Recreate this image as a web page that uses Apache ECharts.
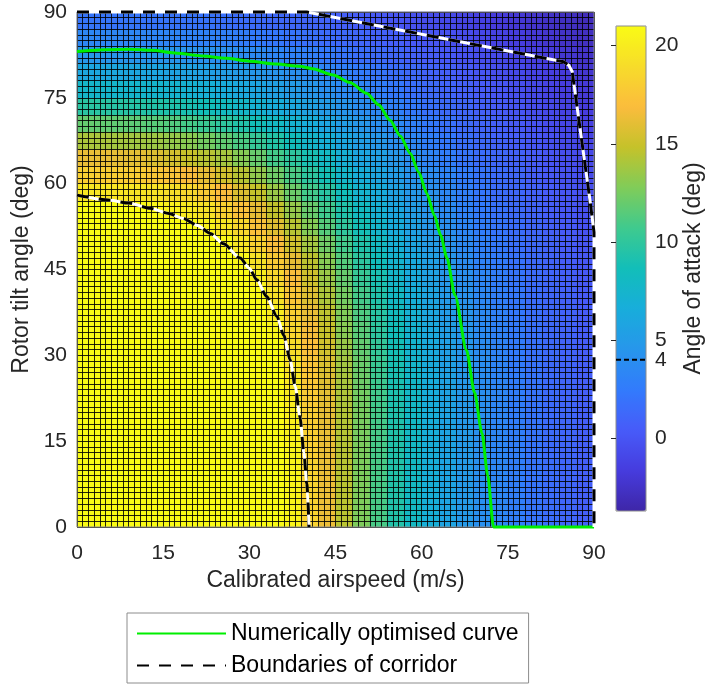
<!DOCTYPE html>
<html>
<head>
<meta charset="utf-8">
<script src="https://cdn.jsdelivr.net/npm/echarts@6/dist/echarts.min.js"></script>
<style>
html,body{margin:0;padding:0;background:#ffffff;}
#chart{width:711px;height:684px;}
</style>
</head>
<body>
<div id="chart"></div>
<script>
// ---------- data ----------
// heatmap cell centres (3 m/s x 3 deg blocks)
const speedCells = [1.5,4.5,7.5,10.5,13.5,16.5,19.5,22.5,25.5,28.5,31.5,34.5,37.5,40.5,43.5,46.5,49.5,52.5,55.5,58.5,61.5,64.5,67.5,70.5,73.5,76.5,79.5,82.5,85.5,88.5];
const tiltCells  = [1.5,4.5,7.5,10.5,13.5,16.5,19.5,22.5,25.5,28.5,31.5,34.5,37.5,40.5,43.5,46.5,49.5,52.5,55.5,58.5,61.5,64.5,67.5,70.5,73.5,76.5,79.5,82.5,85.5,88.5];
// angle of attack (deg); row i belongs to tiltCells[i], column j to speedCells[j]
const aoaRows = [
 [21,21,21,21,21,21,21,21,21,21,21,21,20.6,18.3,16.3,14.5,12.7,11.0,9.4,8.1,6.8,5.75,4.85,4.1,3.4,2.7,2.1,1.55,1.1,0.7],
 [21,21,21,21,21,21,21,21,21,21,21,21,20.6,18.3,16.3,14.5,12.7,11.0,9.4,8.1,6.8,5.75,4.85,4.1,3.4,2.7,2.1,1.55,1.1,0.7],
 [21,21,21,21,21,21,21,21,21,21,21,21,20.6,18.3,16.3,14.5,12.7,11.0,9.4,8.1,6.8,5.75,4.85,4.1,3.4,2.7,2.1,1.55,1.1,0.7],
 [21,21,21,21,21,21,21,21,21,21,21,21,20.55,18.25,16.25,14.45,12.65,11.0,9.4,8.1,6.8,5.75,4.85,4.1,3.4,2.7,2.1,1.55,1.1,0.7],
 [21,21,21,21,21,21,21,21,21,21,21,21,20.45,18.1,16.2,14.4,12.6,10.95,9.35,8.05,6.75,5.7,4.8,4.05,3.35,2.7,2.1,1.5,1.1,0.7],
 [21,21,21,21,21,21,21,21,21,21,21,21,20.35,18.05,16.15,14.35,12.55,10.95,9.35,8.05,6.7,5.7,4.8,4.05,3.35,2.7,2.1,1.5,1.1,0.7],
 [21,21,21,21,21,21,21,21,21,21,21,21,20.2,17.95,16.1,14.3,12.5,10.9,9.3,8.0,6.7,5.65,4.75,4.0,3.3,2.65,2.05,1.5,1.1,0.7],
 [21,21,21,21,21,21,21,21,21,21,21,21,20.0,17.8,15.95,14.15,12.4,10.8,9.2,7.9,6.6,5.65,4.75,4.0,3.3,2.65,2.0,1.45,1.05,0.65],
 [21,21,21,21,21,21,21,21,21,21,21,21,19.7,17.6,15.75,14.0,12.2,10.6,9.05,7.8,6.55,5.55,4.65,3.95,3.2,2.6,2.0,1.45,1.05,0.65],
 [21,21,21,21,21,21,21,21,21,21,21,21,19.4,17.4,15.6,13.8,12.05,10.45,8.95,7.6,6.45,5.45,4.6,3.9,3.15,2.5,1.9,1.4,1.0,0.6],
 [21,21,21,21,21,21,21,21,21,21,21,21,18.9,17.1,15.3,13.5,11.85,10.2,8.8,7.45,6.35,5.35,4.55,3.75,3.05,2.45,1.85,1.35,0.95,0.55],
 [21,21,21,21,21,21,21,21,21,21,21,20.6,18.55,16.65,14.9,13.05,11.55,9.95,8.6,7.3,6.2,5.25,4.45,3.7,3.0,2.4,1.8,1.3,0.9,0.5],
 [21,21,21,21,21,21,21,21,21,21,21,20.0,18.05,16.25,14.55,12.8,11.2,9.65,8.3,7.05,5.95,5.05,4.3,3.6,2.9,2.3,1.7,1.25,0.9,0.45],
 [21,21,21,21,21,21,21,21,21,21,21,19.25,17.5,15.75,14.1,12.4,10.9,9.35,8.05,6.8,5.8,4.9,4.15,3.45,2.75,2.2,1.6,1.2,0.8,0.35],
 [21,21,21,21,21,21,21,21,21,21,20.2,18.55,16.8,15.2,13.55,11.95,10.35,9.0,7.7,6.5,5.55,4.7,4.0,3.3,2.65,2.05,1.5,1.1,0.7,0.25],
 [21,21,21,21,21,21,21,21,21,20.7,19.25,17.7,16.1,14.55,12.95,11.4,9.9,8.55,7.3,6.25,5.35,4.55,3.8,3.05,2.5,1.9,1.4,1.0,0.55,0.15],
 [21,21,21,21,21,21,21,21,20.8,19.55,18.25,16.8,15.3,13.8,12.25,10.8,9.35,8.1,6.9,5.85,5.0,4.25,3.55,2.9,2.3,1.7,1.3,0.9,0.45,0.0],
 [21,21,21,21,21,21,21,20.5,19.6,18.65,17.25,15.8,14.4,12.9,11.45,10.05,8.8,7.5,6.45,5.55,4.7,4.0,3.35,2.7,2.1,1.55,1.15,0.75,0.35,-0.15],
 [21,21,21,21,20.7,20.35,19.9,19.25,18.3,17.25,16.05,14.75,13.4,12.0,10.7,9.35,8.15,7.0,6.0,5.15,4.4,3.7,3.0,2.45,1.9,1.4,1.0,0.6,0.15,-0.3],
 [19.7,19.6,19.5,19.45,19.3,19.0,18.55,17.7,16.9,15.7,14.8,13.5,12.1,10.8,9.7,8.55,7.4,6.4,5.55,4.75,4.05,3.4,2.75,2.2,1.6,1.2,0.85,0.45,0.0,-0.45],
 [18.1,18.0,17.95,17.9,17.6,17.35,16.8,16.1,15.3,14.4,13.3,12.2,11.1,9.9,8.8,7.7,6.7,5.8,5.05,4.4,3.8,3.15,2.55,2.05,1.5,1.1,0.6,0.25,-0.2,-0.65],
 [16.25,16.2,16.1,16.0,15.7,15.35,14.9,14.4,13.9,12.95,12.0,10.85,9.95,8.95,8.0,7.0,6.0,5.3,4.6,3.9,3.2,2.7,2.1,1.6,1.2,0.85,0.45,0.0,-0.45,-0.85],
 [14.05,13.95,13.85,13.75,13.65,13.4,13.05,12.4,11.8,11.1,10.3,9.45,8.55,7.65,6.8,6.0,5.25,4.6,4.0,3.4,2.8,2.3,1.7,1.3,0.95,0.55,0.15,-0.25,-0.7,-1.1],
 [11.9,11.85,11.8,11.65,11.5,11.3,10.9,10.45,9.95,9.4,8.7,8.0,7.3,6.6,5.85,5.2,4.6,4.0,3.45,2.9,2.35,1.8,1.35,1.05,0.7,0.3,-0.1,-0.55,-0.95,-1.35],
 [9.75,9.7,9.65,9.5,9.4,9.25,9.0,8.65,8.25,7.75,7.15,6.6,6.1,5.5,5.0,4.45,3.9,3.4,2.85,2.35,1.85,1.4,1.1,0.75,0.4,0.0,-0.45,-0.8,-1.25,-1.65],
 [7.7,7.6,7.55,7.5,7.45,7.35,7.15,6.9,6.55,6.2,5.85,5.4,5.0,4.55,4.1,3.6,3.15,2.7,2.25,1.75,1.35,1.05,0.75,0.4,0.0,-0.4,-0.8,-1.15,-1.55,-1.9],
 [6.0,6.0,5.95,5.9,5.85,5.65,5.5,5.35,5.15,5.0,4.65,4.35,4.0,3.65,3.2,2.85,2.45,2.0,1.6,1.3,0.95,0.65,0.35,0.0,-0.4,-0.75,-1.15,-1.5,-1.85,-2.2],
 [4.6,4.55,4.55,4.5,4.5,4.45,4.3,4.2,4.0,3.8,3.6,3.35,3.0,2.75,2.4,2.05,1.65,1.35,1.1,0.8,0.5,0.2,-0.15,-0.45,-0.8,-1.15,-1.5,-1.85,-2.15,-2.45],
 [3.4,3.35,3.3,3.3,3.25,3.2,3.1,3.0,2.9,2.7,2.5,2.3,2.05,1.75,1.5,1.3,1.1,0.85,0.6,0.3,0.0,-0.3,-0.6,-0.9,-1.25,-1.55,-1.9,-2.2,-2.5,-2.75],
 [2.1,2.1,2.1,2.1,2.05,2.0,2.0,1.95,1.75,1.6,1.45,1.3,1.2,1.05,0.9,0.7,0.5,0.25,0.0,-0.25,-0.5,-0.8,-1.1,-1.4,-1.7,-2.0,-2.25,-2.55,-2.8,-3.0]
];
// curves: [airspeed (m/s), rotor tilt (deg)]
const optimisedCurve = [[0,83.1],[5,83.4],[9,83.5],[13,83.3],[17.4,82.8],[22,82.3],[26,81.9],[30,81.4],[34.8,80.9],[38.8,80.5],[41,80.1],[44.6,79.0],[47.5,77.7],[50.4,75.8],[52.5,73.8],[54.5,71.1],[56.3,68.3],[58,65.3],[59.5,62.0],[60.9,58.3],[62.2,54.5],[63.3,51.0],[64.4,47.0],[65.8,40.5],[67.8,30.9],[69.2,23.5],[70.5,16.4],[71.5,9.0],[72.5,0],[90,0]];
const lowerBoundary = [[0,58.0],[5.7,57.1],[9,56.6],[12.7,55.7],[16,54.8],[18.5,53.9],[21,52.7],[23.2,51.3],[25.5,49.5],[28.4,47.0],[30,45.2],[31.3,43.2],[33,40.3],[34.8,36.8],[36,33.5],[37.1,29.2],[38,24.5],[38.8,19.3],[39.5,13.0],[40,7.6],[40.4,0]];
const upperBoundary = [[0,90],[40,90],[84.7,81.3],[85.6,80.7],[86.2,79.6],[89.3,57.1],[90,51.5],[90,0]];
const axisRange = [0, 90];
const axisStep = 15;
const aoaRange = [-3.7, 21];
const colorbarTicks = [0,5,10,15,20];
const colorbarLabels = [0,4,5,10,15,20];
const aoaThreshold = 4;
const seriesNames = ['Numerically optimised curve','Boundaries of corridor'];

// ---------- chart ----------
const FONT = "'Liberation Sans', Arial, Helvetica, sans-serif";
const TXT = '#262626';
const plotBox = {left:77, top:12, width:517, height:515};
const barBox = {left:616, top:26, width:30, height:485};
const parula = ['#3E26A8','#463CDE','#475BF9','#327BFC','#2796EB','#18ADDB','#12BEB9','#3FCA8E','#80CC59','#C5C22A','#FBBC3D','#F7DC2A','#F9FB15'];

const heatData = [];
aoaRows.forEach((row, i) => row.forEach((v, j) => heatData.push([j, i, v])));

const gridLine = {show:true, lineStyle:{color:'rgba(0,0,0,0.85)', width:1}};

const chart = echarts.init(document.getElementById('chart'), null, {renderer:'canvas'});
chart.setOption({
  animation:false,
  backgroundColor:'#ffffff',
  textStyle:{fontFamily:FONT},
  grid:[
    Object.assign({show:false, outerBoundsMode:'none', containLabel:false}, plotBox),
    Object.assign({show:true, borderColor:'#8c8c8c', borderWidth:1, backgroundColor:'transparent', z:6, outerBoundsMode:'none', containLabel:false}, plotBox),
    Object.assign({show:true, borderColor:'#8c8c8c', borderWidth:1, backgroundColor:'transparent', z:10, outerBoundsMode:'none', containLabel:false}, barBox)
  ],
  xAxis:[
    {gridIndex:0, type:'category', data:speedCells, show:false},
    {gridIndex:1, type:'value', min:axisRange[0], max:axisRange[1], interval:axisStep, z:5,
     axisLine:{show:false}, axisTick:{show:false},
     axisLabel:{fontSize:21, color:TXT, margin:16, fontFamily:FONT},
     splitLine:gridLine, minorTick:{show:false, splitNumber:15}, minorSplitLine:gridLine,
     name:'Calibrated airspeed (m/s)', nameLocation:'middle', nameGap:41,
     nameTextStyle:{fontSize:23, color:TXT, fontFamily:FONT}},
    {gridIndex:2, type:'value', min:0, max:1, show:false}
  ],
  yAxis:[
    {gridIndex:0, type:'category', data:tiltCells, show:false},
    {gridIndex:1, type:'value', min:axisRange[0], max:axisRange[1], interval:axisStep, z:5,
     axisLine:{show:false}, axisTick:{show:false},
     axisLabel:{fontSize:21, color:TXT, margin:10, fontFamily:FONT},
     splitLine:gridLine, minorTick:{show:false, splitNumber:15}, minorSplitLine:gridLine,
     name:'Rotor tilt angle (deg)', nameLocation:'middle', nameRotate:90, nameGap:40,
     nameTextStyle:{fontSize:23, color:TXT, fontFamily:FONT}},
    {gridIndex:2, type:'value', min:aoaRange[0], max:aoaRange[1], position:'right', z:11,
     axisLine:{show:false}, splitLine:{show:false},
     axisTick:{show:true, inside:true, length:5, customValues:colorbarTicks, lineStyle:{color:TXT, width:1}},
     axisLabel:{show:true, customValues:colorbarLabels, fontSize:21, color:TXT, margin:9, fontFamily:FONT},
     name:'Angle of attack (deg)', nameLocation:'middle', nameRotate:90, nameGap:36,
     nameTextStyle:{fontSize:23, color:TXT, fontFamily:FONT}}
  ],
  visualMap:{
    type:'continuous', min:aoaRange[0], max:aoaRange[1], seriesIndex:0, dimension:2,
    calculable:false, realtime:false, hoverLink:false, orient:'vertical',
    left:barBox.left, top:barBox.top, itemWidth:barBox.width, itemHeight:barBox.height,
    padding:0, showLabel:false, inRange:{color:parula}
  },
  legend:{
    data:seriesNames, orient:'vertical', left:127, top:613, selectedMode:false,
    itemWidth:89, itemHeight:14, itemGap:9, padding:[9,10,6,9],
    borderColor:'#8c8c8c', borderWidth:1, backgroundColor:'#ffffff',
    itemStyle:{opacity:0, borderWidth:0},
    textStyle:{fontSize:23, color:'#000000', fontFamily:FONT}
  },
  series:[
    {type:'heatmap', xAxisIndex:0, yAxisIndex:0, data:heatData, progressive:0, silent:true,
     itemStyle:{borderWidth:0}, emphasis:{disabled:true}},
    {type:'line', name:seriesNames[0], xAxisIndex:1, yAxisIndex:1, data:optimisedCurve,
     symbol:'none', smooth:0.25, smoothMonotone:'x', clip:false, z:10, silent:true,
     lineStyle:{color:'#00ee00', width:3}, itemStyle:{color:'#00ee00'}},
    {type:'line', name:'lowerUnderlay', xAxisIndex:1, yAxisIndex:1, data:lowerBoundary,
     symbol:'none', smooth:0.25, smoothMonotone:'x', clip:false, z:10, silent:true,
     lineStyle:{color:'#ffffff', width:3}},
    {type:'line', name:seriesNames[1], xAxisIndex:1, yAxisIndex:1, data:lowerBoundary,
     symbol:'none', smooth:0.25, smoothMonotone:'x', clip:false, z:11, silent:true,
     lineStyle:{color:'#000000', width:3, type:[12,10]}, itemStyle:{color:'#000000'}},
    {type:'line', name:'upperUnderlay', xAxisIndex:1, yAxisIndex:1, data:upperBoundary,
     symbol:'none', clip:false, z:10, silent:true,
     lineStyle:{color:'#ffffff', width:3}},
    {type:'line', name:seriesNames[1], xAxisIndex:1, yAxisIndex:1, data:upperBoundary,
     symbol:'none', clip:false, z:11, silent:true,
     lineStyle:{color:'#000000', width:3, type:[12,10]}, itemStyle:{color:'#000000'}},
    {type:'line', name:'threshold', xAxisIndex:2, yAxisIndex:2,
     data:[[0, aoaThreshold],[1, aoaThreshold]], symbol:'none', clip:false, z:12, silent:true,
     lineStyle:{color:'#000000', width:2, type:[5,3]}}
  ]
});
</script>
</body>
</html>
